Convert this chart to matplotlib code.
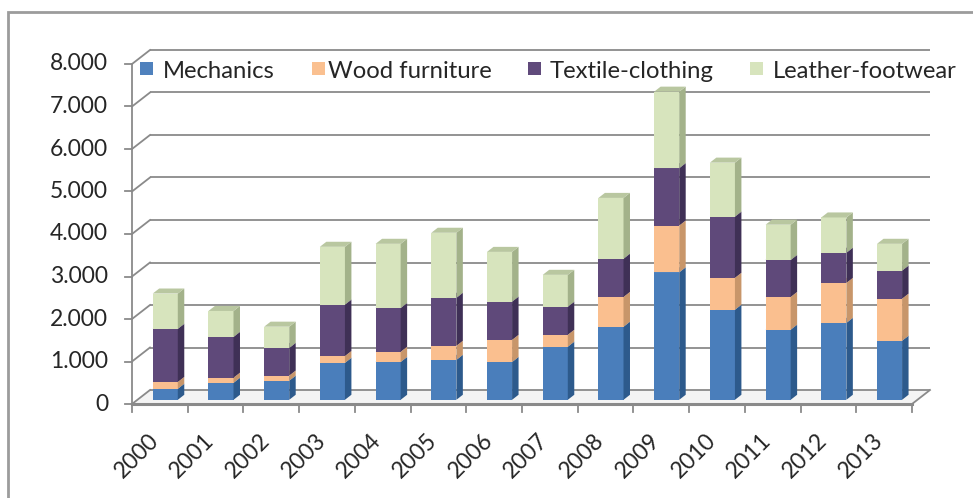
import matplotlib
matplotlib.use("Agg")
import matplotlib.pyplot as plt
from matplotlib.patches import Polygon, Rectangle
import numpy as np

years = ["2000", "2001", "2002", "2003", "2004", "2005", "2006",
         "2007", "2008", "2009", "2010", "2011", "2012", "2013"]
mechanics = [260, 400, 450, 870, 890, 940, 890, 1250, 1720, 3000, 2120, 1650, 1810, 1390]
wood_furniture = [160, 120, 120, 160, 240, 330, 520, 280, 700, 1100, 750, 770, 940, 990]
textile_clothing = [1250, 960, 650, 1210, 1030, 1130, 900, 660, 900, 1350, 1440, 870, 710, 660]
leather_footwear = [830, 610, 500, 1360, 1510, 1530, 1170, 750, 1430, 1800, 1270, 830, 830, 630]
series_names = ["Mechanics", "Wood furniture", "Textile-clothing", "Leather-footwear"]
y_ticks = [0, 1000, 2000, 3000, 4000, 5000, 6000, 7000, 8000]
y_tick_labels = ["0", "1.000", "2.000", "3.000", "4.000", "5.000", "6.000", "7.000", "8.000"]

series = [mechanics, wood_furniture, textile_clothing, leather_footwear]
front_cols = ["#4A7EBB", "#FABF8F", "#5F497A", "#D7E4BD"]
side_cols = ["#2D5A8C", "#C8966A", "#3F3056", "#A3B28A"]
top_cols = ["#6B94C8", "#F6CBA3", "#75628F", "#B9C7A0"]
legend_cols = ["#4F81BD", "#FAC090", "#604A7B", "#D7E4BD"]

W, H = 973, 498
fig = plt.figure(figsize=(W / 100, H / 100), dpi=100)
fig.patch.set_facecolor("white")

FONT = "Lato"
TXT = "#262626"
GRID = "#8A8A8A"

# axes in pixel geometry (front plane)
x_l, x_r, y_0, y_top = 132, 912, 404, 64
ax = fig.add_axes([x_l / W, 1 - y_0 / H, (x_r - x_l) / W, (y_0 - y_top) / H])
n = len(years)
ax.set_xlim(-0.5, n - 0.5)
ax.set_ylim(0, 8000)
ax.axis("off")

# pixel -> data conversions
px_x = (n) / (x_r - x_l)
px_y = 8000 / (y_0 - y_top)
ddx = 18 * px_x
ddy = 14 * px_y

lw = 1.3
# back wall gridlines and left wall diagonals
for v, lab in zip(y_ticks, y_tick_labels):
    ax.plot([-0.5 + ddx, n - 0.5 + ddx], [v + ddy, v + ddy], color=GRID, lw=lw,
            clip_on=False, zorder=1, solid_capstyle="butt")
    ax.plot([-0.5, -0.5 + ddx], [v, v + ddy], color=GRID, lw=lw, clip_on=False, zorder=1)
    ax.plot([-0.5 - 7 * px_x, -0.5], [v, v], color=GRID, lw=lw, clip_on=False, zorder=1)
    ax.text(-0.5 - 24 * px_x, v, lab, ha="right", va="center",
            fontsize=16.5, family=FONT, color=TXT)

# floor
floor = Polygon([[-0.5, 0], [n - 0.5, 0], [n - 0.5 + ddx, ddy], [-0.5 + ddx, ddy]],
                closed=True, facecolor="#F4F4F4", edgecolor="none", zorder=0.5, clip_on=False)
ax.add_patch(floor)
ax.plot([-0.5, n - 0.5], [0, 0], color=GRID, lw=2.2, clip_on=False, zorder=1)
ax.plot([n - 0.5, n - 0.5 + ddx], [0, ddy], color=GRID, lw=lw, clip_on=False, zorder=1)
ax.plot([-0.5, -0.5], [0, 8000], color=GRID, lw=lw, clip_on=False, zorder=1)
for k in range(n + 1):
    ax.plot([k - 0.5, k - 0.5], [0, -8 * px_y], color=GRID, lw=lw, clip_on=False, zorder=1)

# bars
w = 0.45
f = 0.30
s = 0.36
for k in range(n):
    base = 0
    xl = k - w / 2 + f * ddx
    xr = k + w / 2 + f * ddx
    for i, ser in enumerate(series):
        v = ser[k]
        y0 = base + f * ddy
        y1 = base + v + f * ddy
        z = 3 + i * 0.1
        ax.add_patch(Rectangle((xl, y0), xr - xl, y1 - y0, facecolor=front_cols[i],
                               edgecolor="none", zorder=z, clip_on=False))
        ax.add_patch(Polygon([[xr, y0], [xr + s * ddx, y0 + s * ddy],
                              [xr + s * ddx, y1 + s * ddy], [xr, y1]], closed=True,
                             facecolor=side_cols[i], edgecolor="none", zorder=z, clip_on=False))
        ax.add_patch(Polygon([[xl, y1], [xr, y1], [xr + s * ddx, y1 + s * ddy],
                              [xl + s * ddx, y1 + s * ddy]], closed=True,
                             facecolor=top_cols[i], edgecolor="none", zorder=z, clip_on=False))
        base += v
    ax.text(k - 0.22, -26 * px_y, years[k], rotation=45, ha="right", va="top",
            rotation_mode="anchor", fontsize=16.5, family=FONT, color=TXT)

# legend
leg_sq_x = [140, 312, 528, 750]
leg_tx_x = [163, 328, 550, 773]
leg_y = 69
sq = 13
for i, name in enumerate(series_names):
    fig.patches.append(Rectangle((leg_sq_x[i] / W, 1 - (leg_y + sq / 2) / H), sq / W, sq / H,
                                 transform=fig.transFigure, facecolor=legend_cols[i],
                                 edgecolor="none", zorder=5))
    fig.text(leg_tx_x[i] / W, 1 - leg_y / H, name, ha="left", va="center_baseline",
             fontsize=17.2, family=FONT, color=TXT, zorder=6)

# chart frame
fig.patches.append(Rectangle((8 / W, -0.05), 1.05, 1 - 12 / H + 0.05, transform=fig.transFigure,
                             facecolor="none", edgecolor="#9C9C9C", lw=2, zorder=0))

fig.savefig("out.png", dpi=100)
